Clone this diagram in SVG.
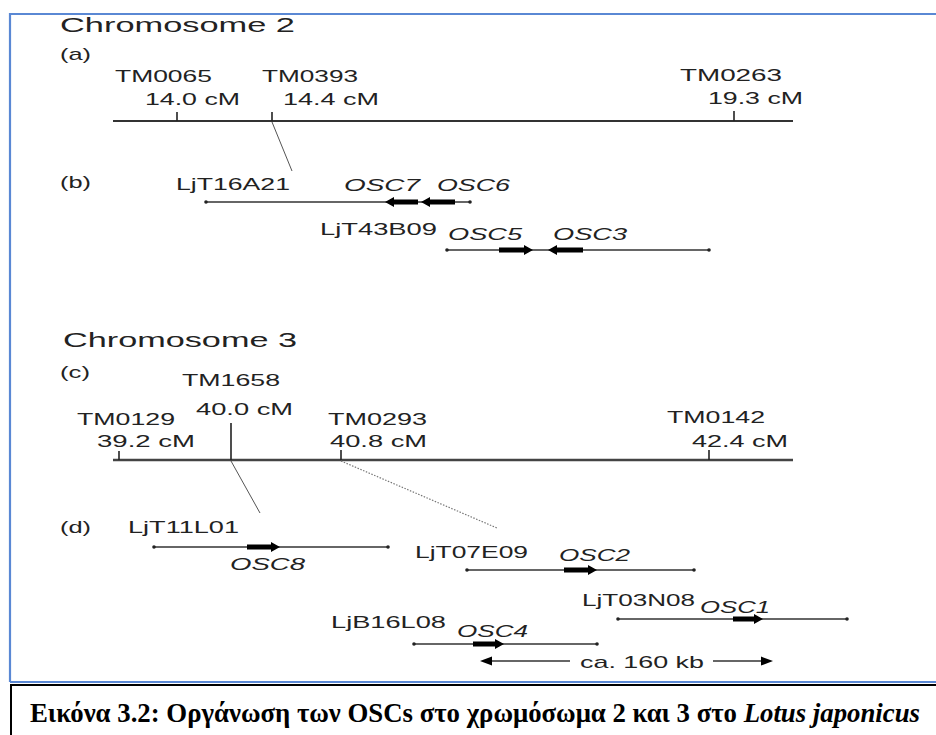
<svg xmlns="http://www.w3.org/2000/svg" width="936" height="735" viewBox="0 0 936 735">
<style>
.t{font-family:"Liberation Sans",Arial,sans-serif;font-size:17px;fill:#222;}
.i{font-style:italic;}
.h{font-size:21px;}
.ax{stroke:#333;stroke-width:2;fill:none;}
.ax3{stroke:#444;stroke-width:2.6;fill:none;}
.tk{stroke:#222;stroke-width:1.6;}
.cl{stroke:#333;stroke-width:1.4;}
.dot{fill:#222;}
.gene{fill:#000;}
.cap{font-family:"Liberation Serif","Times New Roman",serif;font-size:27px;font-weight:bold;fill:#000;}
</style>
<rect x="0" y="0" width="936" height="735" fill="#fff"/>
<!-- frame -->
<path d="M10,682 L10,14 L940,14" fill="none" stroke="#5a88d4" stroke-width="2.2"/>
<line x1="10" y1="682" x2="940" y2="682" stroke="#5a88d4" stroke-width="2"/>
<path d="M11,735 L11,685 L940,685" fill="none" stroke="#000" stroke-width="2"/>

<text class="t h" x="60" y="32" textLength="235" lengthAdjust="spacingAndGlyphs">Chromosome 2</text>
<text class="t" x="60" y="60" font-size="16" textLength="31" lengthAdjust="spacingAndGlyphs">(a)</text>

<!-- chromosome 2 map -->
<g id="chr2-axis">
<line class="ax" x1="113" y1="121" x2="793" y2="121"/>
<line class="tk" x1="177" y1="112" x2="177" y2="121"/>
<line class="tk" x1="272" y1="112" x2="272" y2="121"/>
<line class="tk" x1="734" y1="111" x2="734" y2="121"/>
</g>
<g id="TM0065">
<text class="t" x="115" y="82" textLength="97" lengthAdjust="spacingAndGlyphs">TM0065</text>
<text class="t" x="145" y="105" textLength="95" lengthAdjust="spacingAndGlyphs">14.0 cM</text>
</g>
<g id="TM0393">
<text class="t" x="262" y="82" textLength="96" lengthAdjust="spacingAndGlyphs">TM0393</text>
<text class="t" x="283" y="105" textLength="96" lengthAdjust="spacingAndGlyphs">14.4 cM</text>
</g>
<g id="TM0263">
<text class="t" x="680" y="81" textLength="102" lengthAdjust="spacingAndGlyphs">TM0263</text>
<text class="t" x="708" y="104" textLength="95" lengthAdjust="spacingAndGlyphs">19.3 cM</text>
</g>

<text class="t" x="60" y="188" font-size="16" textLength="31" lengthAdjust="spacingAndGlyphs">(b)</text>

<g id="LjT16A21">
<text class="t" x="176" y="190" textLength="114" lengthAdjust="spacingAndGlyphs">LjT16A21</text>
<line class="cl" x1="206" y1="202" x2="470" y2="202"/>
<circle class="dot" cx="206" cy="202" r="1.8"/><circle class="dot" cx="470" cy="202" r="1.8"/>
</g>
<g id="OSC7">
<text class="t i" x="344" y="191" textLength="76" lengthAdjust="spacingAndGlyphs">OSC7</text>
<polygon class="gene" points="418,199.5 394,199.5 394,197 385,202 394,207 394,204.5 418,204.5"/>
</g>
<g id="OSC6">
<text class="t i" x="437" y="191" textLength="73" lengthAdjust="spacingAndGlyphs">OSC6</text>
<polygon class="gene" points="455,199.5 430,199.5 430,197 421,202 430,207 430,204.5 455,204.5"/>
</g>

<g id="LjT43B09">
<text class="t" x="320" y="235" textLength="117" lengthAdjust="spacingAndGlyphs">LjT43B09</text>
<line class="cl" x1="447" y1="250" x2="709" y2="250"/>
<circle class="dot" cx="447" cy="250" r="1.8"/><circle class="dot" cx="709" cy="250" r="1.8"/>
</g>
<g id="OSC5">
<text class="t i" x="448" y="240" textLength="74" lengthAdjust="spacingAndGlyphs">OSC5</text>
<polygon class="gene" points="499,247.5 524,247.5 524,245 533,250 524,255 524,252.5 499,252.5"/>
</g>
<g id="OSC3">
<text class="t i" x="553" y="240" textLength="74" lengthAdjust="spacingAndGlyphs">OSC3</text>
<polygon class="gene" points="583,247.5 557,247.5 557,245 548,250 557,255 557,252.5 583,252.5"/>
</g>

<text class="t h" x="63" y="347" textLength="234" lengthAdjust="spacingAndGlyphs">Chromosome 3</text>
<text class="t" x="60" y="378" font-size="16" textLength="30" lengthAdjust="spacingAndGlyphs">(c)</text>

<g id="chr3-axis">
<line class="ax3" x1="113" y1="460" x2="793" y2="460"/>
<line class="tk" x1="119" y1="451" x2="119" y2="460"/>
<line class="tk" x1="231" y1="423" x2="231" y2="460" stroke-width="2.2"/>
<line class="tk" x1="341" y1="450" x2="341" y2="460"/>
<line class="tk" x1="709" y1="450" x2="709" y2="460"/>
</g>
<g id="TM0129">
<text class="t" x="77" y="425" textLength="98" lengthAdjust="spacingAndGlyphs">TM0129</text>
<text class="t" x="97" y="447" textLength="98" lengthAdjust="spacingAndGlyphs">39.2 cM</text>
</g>
<g id="TM1658">
<text class="t" x="182" y="386" textLength="98" lengthAdjust="spacingAndGlyphs">TM1658</text>
<text class="t" x="196" y="415" textLength="97" lengthAdjust="spacingAndGlyphs">40.0 cM</text>
</g>
<g id="TM0293">
<text class="t" x="328" y="425" textLength="99" lengthAdjust="spacingAndGlyphs">TM0293</text>
<text class="t" x="330" y="447" textLength="97" lengthAdjust="spacingAndGlyphs">40.8 cM</text>
</g>
<g id="TM0142">
<text class="t" x="667" y="423" textLength="98" lengthAdjust="spacingAndGlyphs">TM0142</text>
<text class="t" x="692" y="447" textLength="96" lengthAdjust="spacingAndGlyphs">42.4 cM</text>
</g>

<text class="t" x="60" y="533" font-size="16" textLength="31" lengthAdjust="spacingAndGlyphs">(d)</text>

<g id="LjT11L01">
<text class="t" x="128" y="533" textLength="111" lengthAdjust="spacingAndGlyphs">LjT11L01</text>
<line class="cl" x1="154" y1="547" x2="388" y2="547"/>
<circle class="dot" cx="154" cy="547" r="1.8"/><circle class="dot" cx="388" cy="547" r="1.8"/>
</g>
<g id="OSC8">
<polygon class="gene" points="247,544.5 271,544.5 271,542 280,547 271,552 271,549.5 247,549.5"/>
<text class="t i" x="230" y="570" textLength="75" lengthAdjust="spacingAndGlyphs">OSC8</text>
</g>

<g id="LjT07E09">
<text class="t" x="415" y="558" textLength="113" lengthAdjust="spacingAndGlyphs">LjT07E09</text>
<line class="cl" x1="467" y1="570" x2="694" y2="570"/>
<circle class="dot" cx="467" cy="570" r="1.8"/><circle class="dot" cx="694" cy="570" r="1.8"/>
</g>
<g id="OSC2">
<text class="t i" x="559" y="561" textLength="71" lengthAdjust="spacingAndGlyphs">OSC2</text>
<polygon class="gene" points="564,567.5 588,567.5 588,565 597,570 588,575 588,572.5 564,572.5"/>
</g>

<g id="LjT03N08">
<text class="t" x="582" y="606" textLength="113" lengthAdjust="spacingAndGlyphs">LjT03N08</text>
<line class="cl" x1="618" y1="619" x2="847" y2="619"/>
<circle class="dot" cx="618" cy="619" r="1.8"/><circle class="dot" cx="847" cy="619" r="1.8"/>
</g>
<g id="OSC1">
<polygon class="gene" points="733,616.5 754,616.5 754,614 763,619 754,624 754,621.5 733,621.5"/>
<text class="t i" x="700" y="613" textLength="70" lengthAdjust="spacingAndGlyphs">OSC1</text>
</g>

<g id="LjB16L08">
<text class="t" x="331" y="628" textLength="115" lengthAdjust="spacingAndGlyphs">LjB16L08</text>
<line class="cl" x1="414" y1="644" x2="597" y2="644"/>
<circle class="dot" cx="414" cy="644" r="1.8"/><circle class="dot" cx="597" cy="644" r="1.8"/>
</g>
<g id="OSC4">
<text class="t i" x="457" y="637" textLength="71" lengthAdjust="spacingAndGlyphs">OSC4</text>
<polygon class="gene" points="473,641.5 495,641.5 495,639 504,644 495,649 495,646.5 473,646.5"/>
</g>

<g id="scale">
<line class="cl" x1="488" y1="661" x2="570" y2="661"/>
<polygon class="gene" points="480,661 492,656.5 492,665.5"/>
<text class="t" x="580" y="668" textLength="124" lengthAdjust="spacingAndGlyphs">ca. 160 kb</text>
<line class="cl" x1="713" y1="661" x2="765" y2="661"/>
<polygon class="gene" points="773,661 761,656.5 761,665.5"/>
</g>

<g id="connectors">
<line x1="272" y1="122" x2="292" y2="171" stroke="#555" stroke-width="1"/>
<line x1="231" y1="461" x2="260" y2="513" stroke="#555" stroke-width="1"/>
<line x1="341" y1="461" x2="497" y2="528" stroke="#777" stroke-width="1.2" stroke-dasharray="1.5,1.5"/>
</g>

<text class="cap" x="30" y="722" textLength="890" lengthAdjust="spacingAndGlyphs">Εικόνα 3.2: Οργάνωση των OSCs στο χρωμόσωμα 2 και 3 στο <tspan font-style="italic">Lotus japonicus</tspan></text>
</svg>
